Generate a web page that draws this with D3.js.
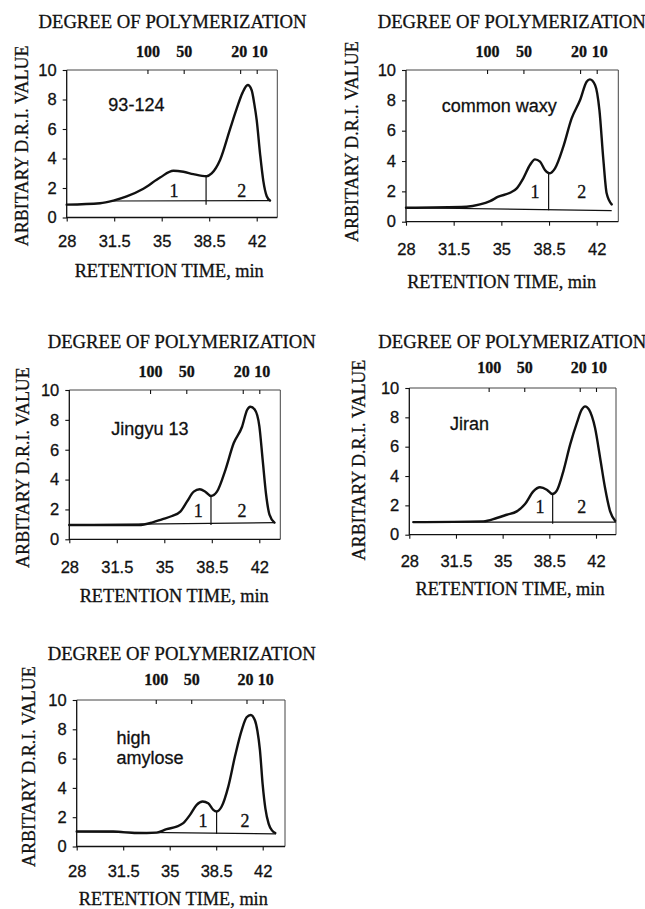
<!DOCTYPE html>
<html lang="en">
<head>
<meta charset="utf-8">
<title>Degree of polymerization - retention time</title>
<style>
  body { margin: 0; background: #fff; }
  .serif { font-family: "Liberation Serif", "Times New Roman", serif; }
  .sans { font-family: "Liberation Sans", Arial, sans-serif; }
  text { fill: #111; stroke: #111; stroke-width: 0.3px; }
</style>
</head>
<body>
<svg id="chart" width="645" height="909"></svg>
<script src="https://d3js.org/d3.v7.min.js"></script>
<script>
// ---- data ----
const sampleNames = [["93-124"], ["common waxy"], ["Jingyu 13"], ["Jiran"], ["high", "amylose"]];
const xTicks = [28, 31.5, 35, 38.5, 42];
const yTicks = [0, 2, 4, 6, 8, 10];
const dpLabels = ["100", "50", "20", "10"];
const dpTimes = [33.95, 36.62, 40.78, 42.0];

// 93-124
const time1 = [28.0, 30.46, 31.44, 32.42, 33.65, 34.88, 35.86, 36.6, 37.33, 38.31, 38.68, 39.3, 40.03, 40.52, 40.95, 41.34, 41.63, 41.82, 42.0, 42.25, 42.49, 42.74, 42.98];
const dri1  = [0.87, 0.97, 1.15, 1.43, 1.95, 2.71, 3.17, 3.1, 2.94, 2.8, 2.99, 3.9, 5.98, 7.36, 8.45, 8.98, 8.63, 7.72, 6.6, 4.3, 2.47, 1.44, 1.15];
// common waxy
const time2 = [28.0, 32.45, 33.43, 34.17, 34.78, 35.64, 36.13, 36.61, 37.1, 37.47, 37.84, 38.2, 38.52, 38.94, 39.55, 40.16, 40.78, 41.26, 41.5, 41.88, 42.2, 42.49, 42.73, 43.1];
const dri2  = [0.92, 0.99, 1.14, 1.36, 1.65, 1.91, 2.2, 2.86, 3.74, 4.11, 3.96, 3.41, 3.19, 3.52, 4.95, 6.81, 8.02, 9.23, 9.38, 9.01, 7.36, 4.07, 1.87, 1.14];
// Jingyu 13
const time3 = [28.0, 33.11, 34.09, 34.83, 35.57, 36.18, 36.67, 37.17, 37.61, 38.02, 38.44, 38.88, 39.5, 40.11, 40.73, 41.1, 41.34, 41.66, 42.0, 42.25, 42.5, 42.75, 43.12];
const dri3  = [0.96, 0.96, 1.12, 1.34, 1.56, 1.85, 2.52, 3.19, 3.35, 3.19, 2.9, 3.19, 4.64, 6.43, 7.54, 8.66, 8.88, 8.7, 7.6, 5.3, 3.0, 1.65, 1.12];
// Jiran
const time4 = [28.3, 33.55, 34.56, 35.31, 36.06, 36.68, 37.3, 37.8, 38.31, 38.73, 39.06, 39.55, 40.06, 40.56, 40.93, 41.18, 41.48, 41.93, 42.31, 42.68, 43.06, 43.43];
const dri4  = [0.86, 0.91, 1.14, 1.36, 1.59, 2.09, 2.95, 3.23, 3.07, 2.77, 3.0, 4.32, 6.14, 7.61, 8.52, 8.75, 8.52, 7.27, 5.23, 3.18, 1.59, 0.95];
// high amylose
const time5 = [28.0, 30.75, 32.51, 34.02, 34.77, 35.52, 36.02, 36.53, 37.03, 37.48, 37.9, 38.28, 38.53, 38.91, 39.41, 39.91, 40.42, 40.79, 41.1, 41.42, 41.6, 41.79, 42.0, 42.2, 42.45, 42.7, 42.95];
const dri5  = [1.02, 1.02, 0.91, 0.95, 1.18, 1.36, 1.59, 2.16, 2.84, 3.07, 2.95, 2.5, 2.39, 2.73, 4.09, 6.14, 7.95, 8.82, 8.98, 8.6, 7.9, 6.6, 4.2, 2.6, 1.55, 1.1, 0.92];

const times = [time1, time2, time3, time4, time5];
const dris = [dri1, dri2, dri3, dri4, dri5];

// baseline drawn under each chromatogram: [t start, value, t end, value]
const baseLines = [[31.4, 1.12, 42.98, 1.15], [28.0, 0.92, 43.1, 0.73], [28.0, 0.96, 43.14, 1.12], [28.3, 0.86, 43.5, 0.86], [28.0, 1.02, 43.0, 0.86]];
// fraction cut between peak 1 and peak 2
const cutTimes = [38.27, 38.47, 38.44, 38.75, 38.53];
const cutLow = [0.87, 0.75, 0.96, 0.75, 0.86];
const cutHigh = [2.82, 3.19, 2.9, 2.77, 2.39];
const frac1X = [35.9, 37.47, 37.5, 37.8, 37.5];
const frac2X = [40.9, 40.9, 40.73, 40.93, 40.66];
const fracY = [1.38, 1.58, 1.51, 1.48, 1.36];
const nameX = [31.07, 30.62, 31.1, 31.05, 31.0];
const nameY = [7.24, 7.25, 6.99, 7.16, 7.02];

// ---- layout of the five panels (pixels) ----
const panels = [
  {left: 66.7, x42: 256.7, right: 277.3, top: 70, bottom: 217.5, titleX: 172.5, titleY: 28, dpY: 56.7, tickY: 246.7, axisX: 169.2, axisY: 276.7, ylabX: 22.5, ylabY: 145.8},
  {left: 406, x42: 596.7, right: 618.3, top: 70, bottom: 221.7, titleX: 511.7, titleY: 28.3, dpY: 56.7, tickY: 255, axisX: 501.7, axisY: 288.3, ylabX: 352, ylabY: 141.7},
  {left: 69.3, x42: 259.3, right: 280.3, top: 390, bottom: 539.3, titleX: 181.7, titleY: 348.3, dpY: 376.7, tickY: 573.3, axisX: 174.2, axisY: 601.7, ylabX: 23.3, ylabY: 467.5},
  {left: 409.3, x42: 596, right: 616, top: 388, bottom: 534.7, titleX: 512.3, titleY: 348.3, dpY: 373.3, tickY: 566.7, axisX: 510, axisY: 595, ylabX: 359, ylabY: 460},
  {left: 76.7, x42: 262.7, right: 285, top: 700, bottom: 846.5, titleX: 181.7, titleY: 660, dpY: 685, tickY: 876.7, axisX: 173.3, axisY: 905, ylabX: 29, ylabY: 766.7}
];

var svg = d3.select("#chart");

panels.forEach(function(p, i) {
  var x = d3.scaleLinear().domain([28, 42]).range([p.left, p.x42]);
  var y = d3.scaleLinear().domain([0, 10]).range([p.bottom, p.top]);
  var g = svg.append("g");

  // frame: light top/right, darker left/bottom
  g.append("path")
    .attr("d", `M${p.left},${p.top}H${p.right}V${p.bottom}`)
    .attr("fill", "none").attr("stroke", "#444").attr("stroke-width", 1);
  g.append("path")
    .attr("d", `M${p.left},${p.top}V${p.bottom}H${p.right}`)
    .attr("fill", "none").attr("stroke", "#111").attr("stroke-width", 1.3);

  // left axis
  var ya = g.append("g").attr("transform", `translate(${p.left},0)`)
    .call(d3.axisLeft(y).tickValues(yTicks).tickSize(4).tickPadding(6).tickSizeOuter(0));
  // bottom axis
  var xa = g.append("g").attr("transform", `translate(0,${p.bottom})`)
    .call(d3.axisBottom(x).tickValues(xTicks).tickSize(4).tickSizeOuter(0).tickFormat(d3.format("")));
  // top axis, degree of polymerization
  var ta = g.append("g").attr("transform", `translate(0,${p.top})`)
    .call(d3.axisTop(x).tickValues(dpTimes).tickSize(-4).tickSizeOuter(0).tickFormat((d, k) => dpLabels[k]));

  [ya, xa, ta].forEach(a => {
    a.select(".domain").remove();
    a.attr("font-family", null).attr("font-size", null);
    a.selectAll("line").attr("stroke", "#111").attr("stroke-width", 1.1);
  });
  ya.selectAll("text").attr("class", "sans").style("font-size", "16.5px");
  xa.selectAll("text").attr("class", "sans").style("font-size", "16.5px")
    .attr("dy", null).attr("y", p.tickY - p.bottom);
  ta.selectAll("text").attr("class", "serif").style("font-size", "16px").style("font-weight", "bold")
    .attr("dy", null).attr("y", p.dpY - p.top)
    .attr("dx", (d, k) => k === 2 ? -1.5 : (k === 3 ? 2.5 : 0));

  // titles
  g.append("text").attr("class", "serif").attr("x", p.titleX).attr("y", p.titleY)
    .attr("text-anchor", "middle").style("font-size", "18.7px")
    .text("DEGREE OF POLYMERIZATION");
  g.append("text").attr("class", "serif").attr("x", p.axisX).attr("y", p.axisY)
    .attr("text-anchor", "middle").style("font-size", "18.3px")
    .text("RETENTION TIME, min");
  g.append("text").attr("class", "serif")
    .attr("transform", `translate(${p.ylabX},${p.ylabY}) rotate(-90)`)
    .attr("text-anchor", "middle").attr("dy", "0.33em").style("font-size", "18px")
    .text("ARBITARY D.R.I. VALUE");

  // baseline and cut
  var b = baseLines[i];
  g.append("line")
    .attr("x1", x(b[0])).attr("y1", y(b[1])).attr("x2", x(b[2])).attr("y2", y(b[3]))
    .attr("stroke", "#111").attr("stroke-width", 1.2);
  g.append("line")
    .attr("x1", x(cutTimes[i])).attr("x2", x(cutTimes[i]))
    .attr("y1", y(cutLow[i])).attr("y2", y(cutHigh[i]))
    .attr("stroke", "#111").attr("stroke-width", 1.2);

  // chromatogram
  var line = d3.line()
    .x((d, k) => x(times[i][k]))
    .y(d => y(d))
    .curve(d3.curveMonotoneX);
  g.append("path").datum(dris[i])
    .attr("d", line)
    .attr("fill", "none").attr("stroke", "#111").attr("stroke-width", 2.4)
    .attr("stroke-linejoin", "round").attr("stroke-linecap", "round");

  // fraction numbers
  g.append("text").attr("class", "serif").attr("x", x(frac1X[i])).attr("y", y(fracY[i]))
    .attr("text-anchor", "middle").style("font-size", "18px").text("1");
  g.append("text").attr("class", "serif").attr("x", x(frac2X[i])).attr("y", y(fracY[i]))
    .attr("text-anchor", "middle").style("font-size", "18px").text("2");

  // sample name
  g.append("text").attr("class", "sans").attr("x", x(nameX[i])).attr("y", y(nameY[i]))
    .style("font-size", "18px")
    .selectAll("tspan").data(sampleNames[i]).join("tspan")
    .attr("x", x(nameX[i])).attr("dy", (d, k) => k ? 20 : 0)
    .text(d => d);
});
</script>
</body>
</html>
